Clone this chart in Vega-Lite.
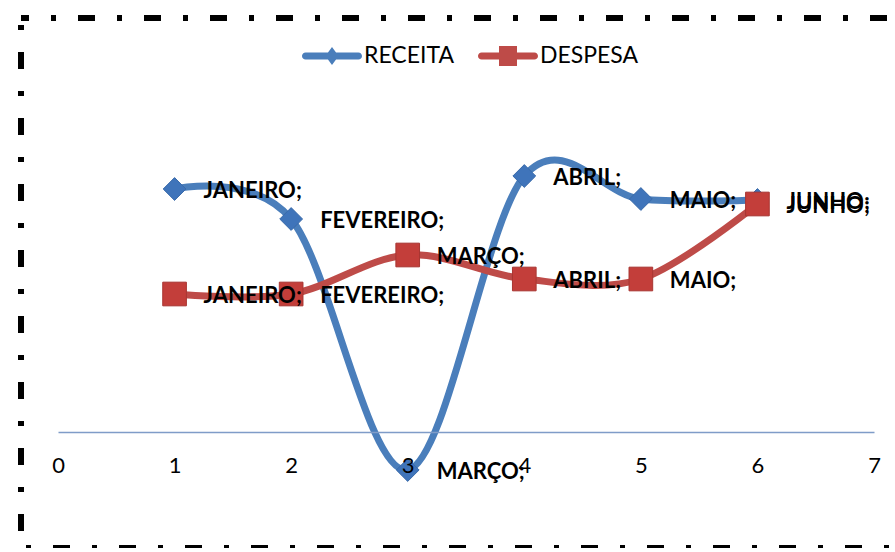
{
  "$schema": "https://vega.github.io/schema/vega-lite/v6.json",
  "width": 877,
  "height": 530,
  "autosize": {"type": "none"},
  "padding": {"left": 21, "top": 18, "right": 0, "bottom": 0},
  "background": "white",
  "config": {
    "view": {"stroke": "black", "strokeWidth": 6, "strokeDash": [17, 22, 5, 22], "strokeDashOffset": 9},
    "font": "Lato"
  },
  "data": {
    "values": [
      {"mes": 1, "serie": "RECEITA", "valor": 24.3, "rotulo": "JANEIRO;"},
      {"mes": 2, "serie": "RECEITA", "valor": 21.3, "rotulo": "FEVEREIRO;"},
      {"mes": 3, "serie": "RECEITA", "valor": -3.8, "rotulo": "MARÇO;"},
      {"mes": 4, "serie": "RECEITA", "valor": 25.6, "rotulo": "ABRIL;"},
      {"mes": 5, "serie": "RECEITA", "valor": 23.3, "rotulo": "MAIO;"},
      {"mes": 6, "serie": "RECEITA", "valor": 23.2, "rotulo": "JUNHO;"},
      {"mes": 1, "serie": "DESPESA", "valor": 13.8, "rotulo": "JANEIRO;"},
      {"mes": 2, "serie": "DESPESA", "valor": 13.8, "rotulo": "FEVEREIRO;"},
      {"mes": 3, "serie": "DESPESA", "valor": 17.7, "rotulo": "MARÇO;"},
      {"mes": 4, "serie": "DESPESA", "valor": 15.3, "rotulo": "ABRIL;"},
      {"mes": 5, "serie": "DESPESA", "valor": 15.3, "rotulo": "MAIO;"},
      {"mes": 6, "serie": "DESPESA", "valor": 22.8, "rotulo": "JUNHO;"}
    ]
  },
  "encoding": {
    "x": {
      "field": "mes", "type": "quantitative",
      "scale": {"domain": [0, 7], "range": [37, 853], "nice": false, "zero": false},
      "axis": {
        "title": null, "grid": false, "ticks": false, "tickSize": 0,
        "values": [0, 1, 2, 3, 4, 5, 6, 7],
        "offset": -116, "domainColor": "#7F9CC8", "domainWidth": 1.5,
        "labelFont": "Lato", "labelFontSize": 22, "labelColor": "black",
        "labelPadding": 23, "labelFlush": false, "labelOverlap": false, "zindex": 1
      }
    },
    "y": {
      "field": "valor", "type": "quantitative",
      "scale": {"domain": [-11.6, 41.4], "nice": false, "zero": false},
      "axis": null
    }
  },
  "layer": [
    {
      "transform": [{"filter": "datum.serie === 'RECEITA'"}],
      "mark": {"type": "line", "interpolate": "cardinal", "tension": 0, "strokeWidth": 7, "strokeCap": "round", "strokeJoin": "round", "color": "#4A7EBB"}
    },
    {
      "transform": [{"filter": "datum.serie === 'DESPESA'"}],
      "mark": {"type": "line", "interpolate": "cardinal", "tension": 0, "strokeWidth": 7, "strokeCap": "round", "strokeJoin": "round", "color": "#BE4B48"}
    },
    {
      "transform": [{"filter": "datum.serie === 'RECEITA'"}],
      "mark": {"type": "point", "shape": "diamond", "filled": true, "size": 520, "color": "#3F74BA", "stroke": "#3A6BAA", "strokeWidth": 1, "opacity": 1}
    },
    {
      "transform": [{"filter": "datum.serie === 'DESPESA'"}],
      "mark": {"type": "point", "shape": "square", "filled": true, "size": 560, "color": "#C33E3A", "stroke": "#A83632", "strokeWidth": 1, "opacity": 1}
    },
    {
      "mark": {"type": "text", "align": "left", "baseline": "middle", "dx": 29, "dy": 2, "font": "Lato", "fontWeight": "bold", "fontSize": 22, "color": "black"},
      "encoding": {"text": {"field": "rotulo"}}
    },
    {
      "mark": {"type": "point", "filled": true, "opacity": 0},
      "encoding": {
        "color": {"field": "serie", "type": "nominal", "scale": {"domain": ["RECEITA", "DESPESA"], "range": ["#4A7EBB", "#BE4B48"]},
          "legend": {
            "title": null, "orient": "none", "legendX": 281, "legendY": 8, "direction": "horizontal",
            "symbolSize": 3600, "symbolOpacity": 1, "symbolStrokeWidth": 0,
            "labelFont": "Lato", "labelFontSize": 23, "labelColor": "black", "labelOffset": 2, "columnPadding": 24
          }
        },
        "shape": {"field": "serie", "type": "nominal", "scale": {"domain": ["RECEITA", "DESPESA"], "range": [
          "M-0.88,-0.12H0.88A0.12,0.12 0 0 1 0.88,0.12H-0.88A0.12,0.12 0 0 1 -0.88,-0.12Z M0,-0.3L0.22,0L0,0.3L-0.22,0Z",
          "M-0.88,-0.12H0.88A0.12,0.12 0 0 1 0.88,0.12H-0.88A0.12,0.12 0 0 1 -0.88,-0.12Z M-0.3,-0.33H0.3V0.33H-0.3Z"
        ]}, "legend": {
            "title": null, "orient": "none", "legendX": 281, "legendY": 8, "direction": "horizontal",
            "symbolSize": 3600, "symbolOpacity": 1, "symbolStrokeWidth": 0,
            "labelFont": "Lato", "labelFontSize": 23, "labelColor": "black", "labelOffset": 2, "columnPadding": 24
          }
        }
      }
    }
  ]
}
